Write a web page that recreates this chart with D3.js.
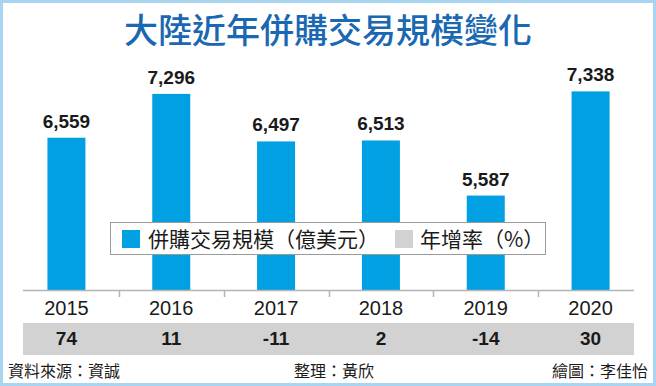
<!DOCTYPE html>
<html>
<head>
<meta charset="utf-8">
<script src="https://cdn.jsdelivr.net/npm/d3@7"></script>
<style>
  html, body { margin: 0; padding: 0; background: #fff; }
  svg { display: block; }
  .cjk { font-family: 'Noto Sans CJK TC', 'Noto Sans CJK SC', sans-serif; }
  .num { font-family: 'Liberation Sans', Arial, sans-serif; }
</style>
</head>
<body>
<svg id="chart" width="656" height="386"></svg>
<script>
'use strict'

// data
var years = ['2015', '2016', '2017', '2018', '2019', '2020']
var dealValues = [6559, 7296, 6497, 6513, 5587, 7338] // 億美元
var growthRates = [74, 11, -11, 2, -14, 30] // %
var legendLabels = ['併購交易規模（億美元）', '年增率（%）']

var width = 656
var height = 386
var blue = '#00a0e2'
var grey = '#d2d2d2'

var svg = d3.select('#chart')

// frame
svg.append('rect')
  .attr('x', 1.5).attr('y', 1.5)
  .attr('width', width - 3).attr('height', height - 3)
  .attr('fill', '#fff')
  .attr('stroke', '#a8d6f2')
  .attr('stroke-width', 3)

// title
svg.append('text')
  .attr('class', 'cjk')
  .attr('x', 328).attr('y', 43)
  .attr('text-anchor', 'middle')
  .attr('font-size', 34)
  .attr('font-weight', 500)
  .attr('fill', '#1a68b2')
  .text('大陸近年併購交易規模變化')

var x = d3.scaleBand()
  .domain(years)
  .range([14, 643])

var y = d3.scaleLinear()
  .domain([4000, 8000])
  .range([290, 52])

var barW = 38
var left = 23
var right = 634
var base = y.range()[0]

var rows = years.map((d, i) => ({ year: d, value: dealValues[i], growth: growthRates[i] }))
var cx = (d) => x(d.year) + x.bandwidth() / 2

// bars
svg.append('g')
  .selectAll('rect')
  .data(rows)
  .enter().append('rect')
    .attr('x', (d) => cx(d) - barW / 2)
    .attr('y', (d) => y(d.value))
    .attr('width', barW)
    .attr('height', (d) => base - y(d.value))
    .attr('fill', blue)

// value labels
svg.append('g')
  .selectAll('text')
  .data(rows)
  .enter().append('text')
    .attr('class', 'num')
    .attr('x', cx)
    .attr('y', (d) => y(d.value) - 10)
    .attr('text-anchor', 'middle')
    .attr('font-size', 19)
    .attr('font-weight', 'bold')
    .attr('fill', '#1a1a1a')
    .text((d) => d3.format(',')(d.value))

// axis line + separators between the years
var axis = svg.append('g')
axis.append('line')
  .attr('x1', left).attr('x2', right)
  .attr('y1', base + 0.5).attr('y2', base + 0.5)
  .attr('stroke', '#b5b5b5')
  .attr('stroke-width', 1.5)

axis.selectAll('line.sep')
  .data(years.slice(1))
  .enter().append('line')
    .attr('class', 'sep')
    .attr('x1', (d) => Math.round(x(d)) + 0.5)
    .attr('x2', (d) => Math.round(x(d)) + 0.5)
    .attr('y1', base).attr('y2', base + 7)
    .attr('stroke', '#b5b5b5')
    .attr('stroke-width', 1.5)

axis.selectAll('text')
  .data(rows)
  .enter().append('text')
    .attr('class', 'num')
    .attr('x', cx)
    .attr('y', 315)
    .attr('text-anchor', 'middle')
    .attr('font-size', 20)
    .attr('fill', '#1a1a1a')
    .text((d) => d.year)

// growth band
svg.append('rect')
  .attr('x', left).attr('y', 323)
  .attr('width', right - left).attr('height', 32)
  .attr('fill', grey)

svg.append('g')
  .selectAll('text')
  .data(rows)
  .enter().append('text')
    .attr('class', 'num')
    .attr('x', cx)
    .attr('y', 345)
    .attr('text-anchor', 'middle')
    .attr('font-size', 19)
    .attr('font-weight', 'bold')
    .attr('fill', '#1a1a1a')
    .text((d) => d.growth)

// legend
var legend = svg.append('g')
legend.append('rect')
  .attr('x', 110.5).attr('y', 222.5)
  .attr('width', 435).attr('height', 32)
  .attr('fill', '#fff')
  .attr('stroke', '#9a9a9a')
  .attr('stroke-width', 1)

var legendItems = [
  { label: legendLabels[0], color: blue, sx: 122, tx: 148 },
  { label: legendLabels[1], color: grey, sx: 395, tx: 420 }
]

legend.selectAll('rect.key')
  .data(legendItems)
  .enter().append('rect')
    .attr('class', 'key')
    .attr('x', (d) => d.sx).attr('y', 230)
    .attr('width', 18).attr('height', 18)
    .attr('fill', (d) => d.color)

legend.selectAll('text')
  .data(legendItems)
  .enter().append('text')
    .attr('class', 'cjk')
    .attr('x', (d) => d.tx).attr('y', 246.5)
    .attr('font-size', 21)
    .attr('fill', '#1a1a1a')
    .text((d) => d.label)

// footer
var footer = [
  { text: '資料來源：資誠', x: 8, anchor: 'start' },
  { text: '整理：黃欣', x: 334, anchor: 'middle' },
  { text: '繪圖：李佳怡', x: 648, anchor: 'end' }
]
svg.append('g')
  .selectAll('text')
  .data(footer)
  .enter().append('text')
    .attr('class', 'cjk')
    .attr('x', (d) => d.x).attr('y', 377)
    .attr('text-anchor', (d) => d.anchor)
    .attr('font-size', 16)
    .attr('fill', '#1a1a1a')
    .text((d) => d.text)
</script>
</body>
</html>
